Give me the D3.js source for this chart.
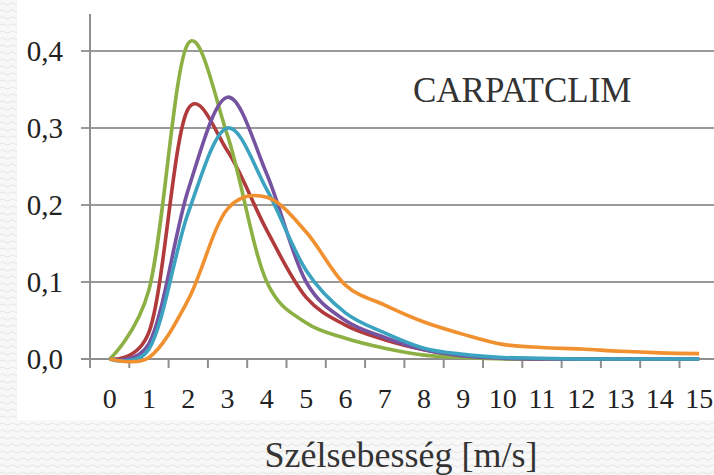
<!DOCTYPE html>
<html>
<head>
<meta charset="utf-8">
<script src="https://cdn.jsdelivr.net/npm/d3@7"></script>
<style>
  body { margin: 0; background: #ffffff; }
  svg { display: block; }
  text { font-family: "Liberation Serif", "DejaVu Serif", serif; }
</style>
</head>
<body>
<div id="chart"></div>
<script>
// wind speed categories (m/s)
var speeds = [0, 1, 2, 3, 4, 5, 6, 7, 8, 9, 10, 11, 12, 13, 14, 15];
var yTicks = [0, 0.1, 0.2, 0.3, 0.4];

// relative frequencies
var redSeries    = [0, 0.035, 0.325, 0.27, 0.167, 0.08, 0.044, 0.025, 0.012, 0.004, 0.001, 0, 0, 0, 0, 0];
var greenSeries  = [0, 0.09, 0.41, 0.29, 0.10, 0.047, 0.027, 0.014, 0.005, 0.002, 0, 0, 0, 0, 0, 0];
var purpleSeries = [0, 0.02, 0.22, 0.34, 0.24, 0.10, 0.05, 0.028, 0.012, 0.004, 0.001, 0, 0, 0, 0, 0];
var cyanSeries   = [0, 0.013, 0.19, 0.30, 0.22, 0.115, 0.06, 0.034, 0.014, 0.006, 0.002, 0.001, 0, 0, 0, 0];
var orangeSeries = [0, 0.002, 0.077, 0.195, 0.21, 0.165, 0.096, 0.07, 0.048, 0.032, 0.019, 0.015, 0.013, 0.01, 0.008, 0.007];

var series = [
  {values: redSeries, color: "#b03a3c"},
  {values: greenSeries, color: "#8cb043"},
  {values: purpleSeries, color: "#7553a0"},
  {values: cyanSeries, color: "#3ba3c0"},
  {values: orangeSeries, color: "#f0902f"}
];

function drawChart() {
var W = 714, H = 475;
var plotLeft = 90, plotBottom = 359, plotTop = 14;
var step = 39.3;

var svg = d3.select("#chart").append("svg")
  .attr("width", W)
  .attr("height", H);

// textured background behind the chart area
var defs = svg.append("defs");
var pat = defs.append("pattern")
  .attr("id", "waves")
  .attr("patternUnits", "userSpaceOnUse")
  .attr("width", 10)
  .attr("height", 7);
pat.append("rect").attr("width", 10).attr("height", 7).attr("fill", "#f8f8f8");
pat.append("path")
  .attr("d", "M0,4 q2.5,-2.5 5,0 t5,0")
  .attr("fill", "none")
  .attr("stroke", "#e4e4e4")
  .attr("stroke-width", 1);

svg.append("rect").attr("width", W).attr("height", H).attr("fill", "url(#waves)");
svg.append("rect")
  .attr("x", 17).attr("y", 0)
  .attr("width", W - 17).attr("height", 420)
  .attr("fill", "#ffffff");

// scales
var x = d3.scaleBand().domain(speeds).range([plotLeft, plotLeft + step * speeds.length]);
var y = d3.scaleLinear().domain([0, 0.448]).range([plotBottom, plotTop]);

// gridlines
svg.append("g").selectAll("line")
  .data(yTicks.slice(1))
  .enter()
  .append("line")
  .attr("x1", plotLeft - 9)
  .attr("x2", W)
  .attr("y1", function(d) { return y(d); })
  .attr("y2", function(d) { return y(d); })
  .attr("stroke", "#9a9a9a")
  .attr("stroke-width", 2);

// y axis line + ticks
svg.append("line")
  .attr("x1", plotLeft).attr("x2", plotLeft)
  .attr("y1", plotTop).attr("y2", plotBottom)
  .attr("stroke", "#8f8f8f")
  .attr("stroke-width", 2);

svg.append("line")
  .attr("x1", plotLeft - 9).attr("x2", plotLeft)
  .attr("y1", y(0)).attr("y2", y(0))
  .attr("stroke", "#8f8f8f")
  .attr("stroke-width", 2);

svg.append("g").selectAll("text")
  .data(yTicks)
  .enter()
  .append("text")
  .attr("x", 63)
  .attr("y", function(d) { return y(d) + 10; })
  .attr("text-anchor", "end")
  .attr("font-size", 29)
  .attr("fill", "#222")
  .text(function(d) { return d3.format(".1f")(d).replace(".", ","); });

// x axis line
svg.append("line")
  .attr("x1", plotLeft).attr("x2", W)
  .attr("y1", plotBottom).attr("y2", plotBottom)
  .attr("stroke", "#8f8f8f")
  .attr("stroke-width", 2);

// tick marks sit between categories
svg.append("g").selectAll("line")
  .data(speeds.concat([16]))
  .enter()
  .append("line")
  .attr("x1", function(d) { return d < 16 ? x(d) : x(15) + x.bandwidth(); })
  .attr("x2", function(d) { return d < 16 ? x(d) : x(15) + x.bandwidth(); })
  .attr("y1", plotBottom)
  .attr("y2", plotBottom + 9)
  .attr("stroke", "#8f8f8f")
  .attr("stroke-width", 2);

svg.append("g").selectAll("text")
  .data(speeds)
  .enter()
  .append("text")
  .attr("x", function(d) { return x(d) + x.bandwidth() / 2; })
  .attr("y", 408)
  .attr("text-anchor", "middle")
  .attr("font-size", 28)
  .attr("fill", "#222")
  .text(function(d) { return d; });

// curves (near-uniform catmull-rom, close to excel's smoothing)
var line = d3.line()
  .x(function(d, i) { return x(speeds[i]) + x.bandwidth() / 2; })
  .y(function(d) { return y(d); })
  .curve(d3.curveCatmullRom.alpha(0.15));

svg.append("g").selectAll("path")
  .data(series)
  .enter()
  .append("path")
  .attr("fill", "none")
  .attr("stroke", function(d) { return d.color; })
  .attr("stroke-width", 3.6)
  .attr("stroke-linejoin", "round")
  .attr("d", function(d) { return line(d.values); });

// labels
svg.append("text")
  .attr("x", 413)
  .attr("y", 102)
  .attr("font-size", 35)
  .attr("fill", "#333")
  .text("CARPATCLIM");

svg.append("text")
  .attr("x", 401)
  .attr("y", 467)
  .attr("text-anchor", "middle")
  .attr("font-size", 36)
  .attr("fill", "#333")
  .text("Szélsebesség [m/s]");
}

drawChart();
</script>
</body>
</html>
